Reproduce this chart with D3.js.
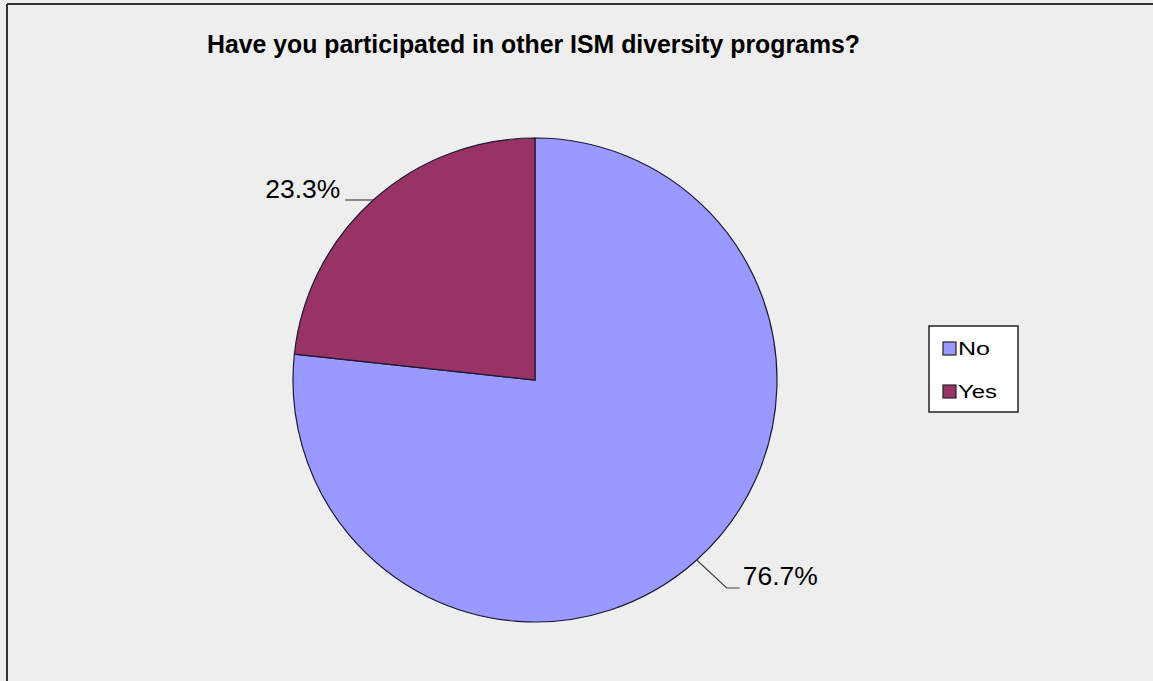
<!DOCTYPE html>
<html><head><meta charset="utf-8">
<script src="https://cdn.jsdelivr.net/npm/d3@7"></script>
<style>body{margin:0;background:#eeeeee;}svg{display:block;}</style>
</head><body>
<svg id="chart" width="1153" height="681"></svg>
<script>
const categories = ["No", "Yes"];
const values = [76.7, 23.3];
const labels = ["76.7%", "23.3%"];
const colors = ["#9999ff", "#993366"];
const title = "Have you participated in other ISM diversity programs?";

const svg = d3.select("#chart");
svg.append("rect").attr("x",0).attr("y",0).attr("width",1153).attr("height",681).attr("fill","#eeeeee");
// frame (top and left visible)
svg.append("line").attr("x1",7).attr("y1",4).attr("x2",1153).attr("y2",4).attr("stroke","#333").attr("stroke-width",2);
svg.append("line").attr("x1",7).attr("y1",4).attr("x2",7).attr("y2",681).attr("stroke","#333").attr("stroke-width",2);

svg.append("text").attr("x",207).attr("y",53).text(title)
  .attr("font-family","Liberation Sans, Arial, sans-serif").attr("font-weight","bold")
  .attr("font-size",25).attr("fill","#000")
  .attr("textLength",653).attr("lengthAdjust","spacingAndGlyphs");

const cx = 535, cy = 380, r = 242;
const data = categories.map((c,i)=>({cat:c, value:values[i], label:labels[i], color:colors[i]}));
const pie = d3.pie().sort(null).value(d=>d.value);
const arcs = pie(data);
const arc = d3.arc().innerRadius(0).outerRadius(r);
const g = svg.append("g").attr("transform",`translate(${cx},${cy})`);
g.selectAll("path").data(arcs).join("path")
  .attr("d",arc).attr("fill",d=>d.data.color)
  .attr("stroke","#1a1a33").attr("stroke-width",1.2);

// leader lines and labels
arcs.forEach(a=>{
  const mid = (a.startAngle+a.endAngle)/2;
  const px = Math.sin(mid)*r, py = -Math.cos(mid)*r;
  const right = px > 0;
  let pts, tx, ty, anchor;
  if (py > 0) {
    pts = [[px,py],[px+30,py+28],[px+43,py+28]];
    tx = px+46; ty = py+25; anchor="start";
  } else {
    const dx = right ? 28 : -28;
    pts = [[px,py],[px+dx,py]];
    tx = px + (right?33:-33); ty = py-2; anchor = right?"start":"end";
  }
  g.append("path").attr("d",d3.line()(pts)).attr("fill","none").attr("stroke","#444").attr("stroke-width",1.2);
  g.append("text").attr("x",tx).attr("y",ty).attr("text-anchor",anchor)
    .attr("font-family","Liberation Sans, Arial, sans-serif").attr("font-size",25).attr("fill","#000")
    .attr("textLength",75).attr("lengthAdjust","spacingAndGlyphs")
    .text(a.data.label);
});

// legend
const lg = svg.append("g").attr("transform","translate(929,326)");
lg.append("rect").attr("width",89).attr("height",86).attr("fill","#fff").attr("stroke","#222").attr("stroke-width",1.5);
const legendLen = {No:32, Yes:39};
data.forEach((d,i)=>{
  const y = 16 + i*43;
  lg.append("rect").attr("x",14).attr("y",y).attr("width",13).attr("height",13)
    .attr("fill",d.color).attr("stroke","#222").attr("stroke-width",1.2);
  lg.append("text").attr("x",29).attr("y",y+13).text(d.cat)
    .attr("font-family","Liberation Sans, Arial, sans-serif").attr("font-size",18).attr("fill","#000")
    .attr("textLength",legendLen[d.cat]).attr("lengthAdjust","spacingAndGlyphs");
});
</script>
</body></html>
